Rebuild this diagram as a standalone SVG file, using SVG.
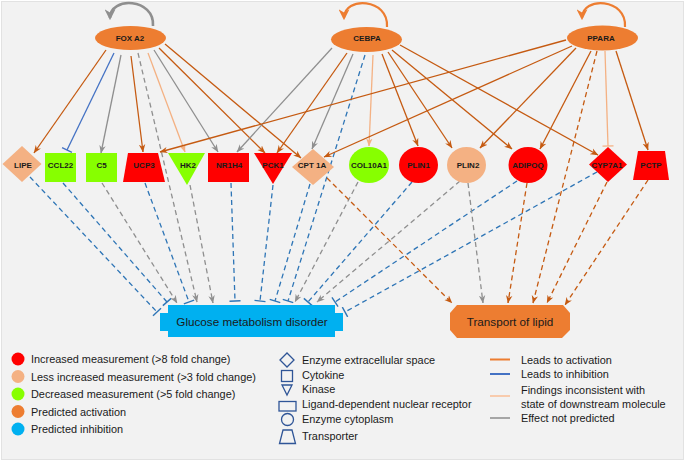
<svg xmlns="http://www.w3.org/2000/svg" width="685" height="462" viewBox="0 0 685 462">
<style>
text{font-family:"Liberation Sans",Arial,sans-serif;fill:#1a1a1a}
.lbl{font-size:8px;font-weight:bold;text-anchor:middle}
.big{font-size:11.7px;text-anchor:middle}
.leg{font-size:10.9px}
.e{fill:none;stroke-width:1.3}
.or{stroke:#c55a11}
.gr{stroke:#8f8f8f}
.pe{stroke:#f4b183}
.bl{stroke:#2e75b6}
.bls{stroke:#4472c4}
.d{stroke-dasharray:5 3.5}
.lsh{fill:none;stroke:#2f5597;stroke-width:1.3}
</style>
<defs>
<marker id="aor" viewBox="0 0 10 10" refX="9.5" refY="5" markerWidth="8" markerHeight="8" markerUnits="userSpaceOnUse" orient="auto"><path d="M0,1 L10,5 L0,9 L3,5 z" fill="#c55a11"/></marker>
<marker id="agr" viewBox="0 0 10 10" refX="9.5" refY="5" markerWidth="8" markerHeight="8" markerUnits="userSpaceOnUse" orient="auto"><path d="M0,1 L10,5 L0,9 L3,5 z" fill="#8f8f8f"/></marker>
<marker id="ape" viewBox="0 0 10 10" refX="9.5" refY="5" markerWidth="8" markerHeight="8" markerUnits="userSpaceOnUse" orient="auto"><path d="M0,1 L10,5 L0,9 L3,5 z" fill="#f4b183"/></marker>
<marker id="tbl" viewBox="-2 -6 4 12" refX="0" refY="0" markerWidth="4" markerHeight="12" markerUnits="userSpaceOnUse" orient="auto"><path d="M0,-5.5 V5.5" stroke="#2e75b6" stroke-width="1.4"/></marker>
<marker id="tbls" viewBox="-2 -6 4 12" refX="0" refY="0" markerWidth="4" markerHeight="12" markerUnits="userSpaceOnUse" orient="auto"><path d="M0,-5.5 V5.5" stroke="#4472c4" stroke-width="1.4"/></marker>
<marker id="tpe" viewBox="-2 -6 4 12" refX="0" refY="0" markerWidth="4" markerHeight="12" markerUnits="userSpaceOnUse" orient="auto"><path d="M0,-5.5 V5.5" stroke="#f4b183" stroke-width="1.4"/></marker>
<marker id="lgr" viewBox="0 0 10 10" refX="8" refY="5" markerWidth="11" markerHeight="11" markerUnits="userSpaceOnUse" orient="auto"><path d="M0,0 L10,5 L0,10 L3,5 z" fill="#8f8f8f"/></marker>
<marker id="lor" viewBox="0 0 10 10" refX="8" refY="5" markerWidth="11" markerHeight="11" markerUnits="userSpaceOnUse" orient="auto"><path d="M0,0 L10,5 L0,10 L3,5 z" fill="#ed7d31"/></marker>
</defs>

<rect x="1.5" y="1.5" width="682" height="458" fill="#f2f2f2" stroke="#e2e2e2"/>

<g id="connectors">
  <!-- self loops -->
  <path d="M153,26 C155,-2 110,-4 110,18" fill="none" stroke="#8f8f8f" stroke-width="2.6" marker-end="url(#lgr)"/>
  <path d="M387,27 C389,-2 344,-4 344,18" fill="none" stroke="#ed7d31" stroke-width="2.2" marker-end="url(#lor)"/>
  <path d="M625,27 C627,-2 582,-4 582,18" fill="none" stroke="#ed7d31" stroke-width="2.2" marker-end="url(#lor)"/>

  <!-- FOX A2 -->
  <path class="e or" d="M106,50 L34,153" marker-end="url(#aor)"/>
  <path class="e bls" d="M114,53 L67,150" marker-end="url(#tbls)"/>
  <path class="e gr" d="M121,55 L101,153" marker-end="url(#agr)"/>
  <path class="e or" d="M131,56 L143,152" marker-end="url(#aor)"/>
  <path class="e pe" d="M148,53 L185,152" marker-end="url(#ape)"/>
  <path class="e gr" d="M154,50 L218,152" marker-end="url(#agr)"/>
  <path class="e or" d="M159,48 L265,153" marker-end="url(#aor)"/>
  <path class="e or" d="M165,44 L301,158" marker-end="url(#aor)"/>
  <path class="e gr d" d="M138,53 L197,302" marker-end="url(#agr)"/>

  <!-- CEBPA -->
  <path class="e gr" d="M332,48 L237,152" marker-end="url(#agr)"/>
  <path class="e or" d="M347,53 L277,153" marker-end="url(#aor)"/>
  <path class="e gr" d="M353,54 L312,149" marker-end="url(#agr)"/>
  <path class="e bl d" d="M365,55 L288,301" marker-end="url(#tbl)"/>
  <path class="e pe" d="M373,55 L369,146" marker-end="url(#ape)"/>
  <path class="e or" d="M382,54 L418,146" marker-end="url(#aor)"/>
  <path class="e or" d="M388,52 L452,148" marker-end="url(#aor)"/>
  <path class="e or" d="M392,50 L512,149" marker-end="url(#aor)"/>
  <path class="e or" d="M400,45 L598,155" marker-end="url(#aor)"/>

  <!-- PPARA -->
  <path class="e or" d="M566,40 L160,152" marker-end="url(#aor)"/>
  <path class="e or" d="M572,46 L324,157" marker-end="url(#aor)"/>
  <path class="e or" d="M576,48 L480,148" marker-end="url(#aor)"/>
  <path class="e or" d="M591,51 L540,149" marker-end="url(#aor)"/>
  <path class="e or d" d="M597,51 L533,303" marker-end="url(#aor)"/>
  <path class="e pe" d="M605,51 L608,146" marker-end="url(#tpe)"/>
  <path class="e or" d="M616,51 L648,150" marker-end="url(#aor)"/>

  <!-- to Glucose metabolism disorder -->
  <path class="e bl d" d="M30,177 L157,312" marker-end="url(#tbl)"/>
  <path class="e bl d" d="M63,183 L167,302" marker-end="url(#tbl)"/>
  <path class="e gr d" d="M102,183 L177,303" marker-end="url(#agr)"/>
  <path class="e bl d" d="M145,183 L189,302" marker-end="url(#tbl)"/>
  <path class="e gr d" d="M190,185 L213,303" marker-end="url(#agr)"/>
  <path class="e bl d" d="M231,183 L235,301" marker-end="url(#tbl)"/>
  <path class="e bl d" d="M273,185 L260,301" marker-end="url(#tbl)"/>
  <path class="e bl d" d="M310,184 L275,301" marker-end="url(#tbl)"/>
  <path class="e gr d" d="M358,182 L295,302" marker-end="url(#agr)"/>
  <path class="e bl d" d="M412,182 L308,302" marker-end="url(#tbl)"/>
  <path class="e gr d" d="M460,181 L317,302" marker-end="url(#agr)"/>
  <path class="e bl d" d="M517,181 L335,302" marker-end="url(#tbl)"/>
  <path class="e bl d" d="M597,172 L345,312" marker-end="url(#tbl)"/>

  <!-- to Transport of lipid -->
  <path class="e or d" d="M327,178 L452,303" marker-end="url(#aor)"/>
  <path class="e gr d" d="M468,183 L483,303" marker-end="url(#agr)"/>
  <path class="e or d" d="M527,183 L508,303" marker-end="url(#aor)"/>
  <path class="e or d" d="M607,182 L547,303" marker-end="url(#aor)"/>
  <path class="e or d" d="M648,180 L565,305" marker-end="url(#aor)"/>
</g>

<g id="FOXA2"><ellipse cx="130.5" cy="38" rx="35.5" ry="12" fill="#ed7d31"/><text class="lbl" x="130" y="40.5">FOX A2</text></g>
<g id="CEBPA"><ellipse cx="366.5" cy="39.5" rx="35.5" ry="12.5" fill="#ed7d31"/><text class="lbl" x="367" y="40.5">CEBPA</text></g>
<g id="PPARA"><ellipse cx="602.5" cy="38" rx="35.5" ry="12.5" fill="#ed7d31"/><text class="lbl" x="601" y="40.5">PPARA</text></g>

<g id="LIPE"><polygon points="2.5,164 22,146 41.5,164 22,182" fill="#f4b183"/><text class="lbl" x="23" y="168">LIPE</text></g>
<g id="CCL22"><rect x="45" y="153" width="31" height="29" fill="#87ff00"/><text class="lbl" x="60.5" y="168">CCL22</text></g>
<g id="C5"><rect x="86" y="153" width="31" height="29" fill="#87ff00"/><text class="lbl" x="101.5" y="168">C5</text></g>
<g id="UCP3"><polygon points="128,153 158,153 165,182 123,182" fill="#ff0000"/><text class="lbl" x="144" y="168">UCP3</text></g>
<g id="HK2"><polygon points="168,153 205,153 187,185" fill="#87ff00"/><text class="lbl" x="188" y="168">HK2</text></g>
<g id="NR1H4"><rect x="208" y="153" width="41" height="29" fill="#ff0000"/><text class="lbl" x="229" y="168">NR1H4</text></g>
<g id="PCK1"><polygon points="254,153 292,153 273,184" fill="#ff0000"/><text class="lbl" x="273" y="168">PCK1</text></g>
<g id="CPT1A"><polygon points="292,167 313,149 334,167 313,185" fill="#f4b183"/><text class="lbl" x="312" y="168">CPT 1A</text></g>
<g id="COL10A1"><ellipse cx="369" cy="165" rx="20" ry="18" fill="#87ff00"/><text class="lbl" x="369" y="168">COL10A1</text></g>
<g id="PLIN1"><ellipse cx="418.5" cy="165" rx="19.5" ry="18" fill="#ff0000"/><text class="lbl" x="418.5" y="168">PLIN1</text></g>
<g id="PLIN2"><ellipse cx="466.5" cy="165" rx="19.5" ry="18" fill="#f4b183"/><text class="lbl" x="468" y="168">PLIN2</text></g>
<g id="ADIPOQ"><ellipse cx="528" cy="165" rx="19.5" ry="18" fill="#ff0000"/><text class="lbl" x="528" y="168">ADIPOQ</text></g>
<g id="CYP7A1"><polygon points="589,164.5 608,147 627,164.5 608,182" fill="#ff0000"/><text class="lbl" x="607" y="168">CYP7A1</text></g>
<g id="PCTP"><polygon points="638,151 665,151 669,180 633,180" fill="#ff0000"/><text class="lbl" x="651" y="168">PCTP</text></g>

<g id="Glucose"><polygon points="168,305 335,305 335,313 343,313 343,331 335,331 335,337 168,337 168,331 160,331 160,313 168,313" fill="#00b0f0"/><text class="big" x="252" y="325.5">Glucose metabolism disorder</text></g>
<g id="Transport"><polygon points="457,305 563,305 570,313 570,330 562,338 457,338 450,330 450,313" fill="#ed7d31"/><text class="big" x="510" y="326">Transport of lipid</text></g>

<g id="legend">
  <circle cx="18" cy="359" r="6.5" fill="#ff0000"/>
  <circle cx="18" cy="376.5" r="6.5" fill="#f4b183"/>
  <circle cx="18" cy="394" r="6.5" fill="#87ff00"/>
  <circle cx="18" cy="411.5" r="6.5" fill="#ed7d31"/>
  <circle cx="18" cy="429" r="6.5" fill="#00b0f0"/>
  <text class="leg" x="31" y="363">Increased measurement (&gt;8 fold change)</text>
  <text class="leg" x="31" y="380.5">Less increased measurement (&gt;3 fold change)</text>
  <text class="leg" x="31" y="398">Decreased measurement (&gt;5 fold change)</text>
  <text class="leg" x="31" y="415.5">Predicted activation</text>
  <text class="leg" x="31" y="433">Predicted inhibition</text>

  <polygon class="lsh" points="280,360 287,353 294,360 287,367"/>
  <rect class="lsh" x="281.5" y="370.5" width="11" height="11"/>
  <polygon class="lsh" points="282,385 292,385 287,395"/>
  <rect class="lsh" x="279" y="401.5" width="17" height="9.5"/>
  <circle class="lsh" cx="287.5" cy="419.5" r="6"/>
  <polygon class="lsh" points="283,430 292,430 295.5,443.5 279.5,443.5"/>
  <text class="leg" x="302" y="364">Enzyme extracellular space</text>
  <text class="leg" x="302" y="379">Cytokine</text>
  <text class="leg" x="302" y="393">Kinase</text>
  <text class="leg" x="302" y="408">Ligand-dependent nuclear receptor</text>
  <text class="leg" x="302" y="423">Enzyme cytoplasm</text>
  <text class="leg" x="302" y="440">Transporter</text>

  <line x1="490" y1="359.5" x2="510" y2="359.5" stroke="#ed7d31" stroke-width="2"/>
  <line x1="490" y1="374" x2="510" y2="374" stroke="#4472c4" stroke-width="2"/>
  <line x1="490" y1="396" x2="510" y2="396" stroke="#f8cbad" stroke-width="2"/>
  <line x1="490" y1="418" x2="510" y2="418" stroke="#a6a6a6" stroke-width="2"/>
  <text class="leg" x="521" y="364">Leads to activation</text>
  <text class="leg" x="521" y="378">Leads to inhibition</text>
  <text class="leg" x="521" y="394">Findings inconsistent with</text>
  <text class="leg" x="521" y="408">state of downstream molecule</text>
  <text class="leg" x="521" y="422">Effect not predicted</text>
</g>
</svg>
